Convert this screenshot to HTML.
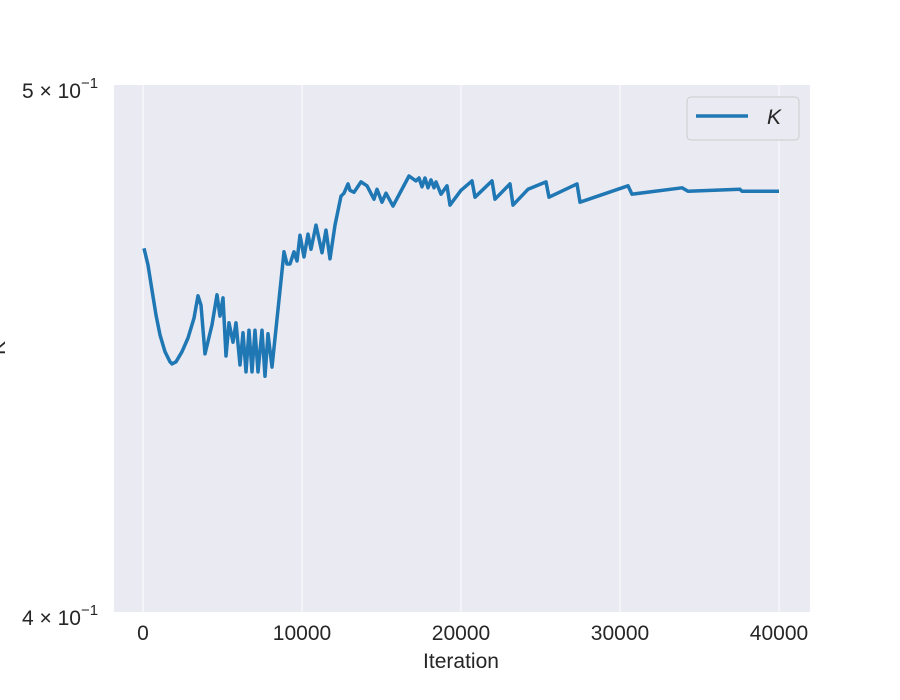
<!DOCTYPE html>
<html><head><meta charset="utf-8"><style>
body{margin:0;background:#fff;}
svg{display:block;font-family:"Liberation Sans",sans-serif;}
</style></head><body>
<svg id="chart" width="900" height="700">
<rect x="114" y="85" width="696" height="527" fill="#eaeaf2"/>
<g id="grid"></g><g id="ticks"></g>
<text x="5" y="348" transform="rotate(-90 5 348)" text-anchor="middle" font-size="21" fill="#262626">K</text>
<text x="461" y="668" text-anchor="middle" font-size="21" fill="#262626">Iteration</text>
<text x="22" y="98" font-size="21" fill="#262626">5 × 10<tspan dy="-10" font-size="15">−1</tspan></text>
<text x="22" y="625" font-size="21" fill="#262626">4 × 10<tspan dy="-10" font-size="15">−1</tspan></text>
<path id="series" fill="none" stroke="#1f77b4" stroke-width="3.5" stroke-linejoin="round"/>
<g>
<rect x="687" y="97" width="112" height="43" rx="4" fill="#eaeaf2" stroke="#cccccc" stroke-width="1"/>
<line x1="696" y1="116" x2="748" y2="116" stroke="#1f77b4" stroke-width="3.5"/>
<text x="767" y="124" font-size="21" font-style="italic" fill="#262626">K</text>
</g>
</svg>
<script>
const iters=[63,314,566,818,1069,1384,1698,1824,2075,2453,2830,3207,3459,3648,3899,4339,4654,4843,5031,5220,5409,5660,5849,6100,6289,6478,6666,6855,7044,7232,7484,7673,7862,8113,8868,9056,9245,9497,9685,9874,10125,10377,10566,10880,11257,11509,11761,12075,12453,12641,12893,13019,13270,13711,14088,14528,14717,15031,15283,15723,16729,17169,17358,17546,17735,17924,18113,18301,18427,18742,19119,19307,19999,20691,20880,21949,22137,23080,23269,24212,25344,25533,27294,27482,30501,30753,33897,34275,37545,37671,40000];
const kValues=[0.4666,0.4633,0.4584,0.4536,0.4498,0.4466,0.4447,0.4443,0.4447,0.4466,0.4492,0.4530,0.4573,0.4555,0.4462,0.4517,0.4575,0.4534,0.4569,0.4458,0.4521,0.4484,0.4521,0.4441,0.4502,0.4428,0.4507,0.4428,0.4507,0.4428,0.4507,0.4420,0.4500,0.4437,0.4659,0.4635,0.4635,0.4659,0.4641,0.4692,0.4649,0.4694,0.4664,0.4712,0.4657,0.4702,0.4645,0.4712,0.4770,0.4776,0.4795,0.4782,0.4778,0.4799,0.4791,0.4764,0.4784,0.4758,0.4776,0.4750,0.4811,0.4801,0.4807,0.4789,0.4807,0.4787,0.4803,0.4787,0.4799,0.4774,0.4791,0.4752,0.4782,0.4801,0.4768,0.4801,0.4764,0.4795,0.4752,0.4784,0.4799,0.4768,0.4795,0.4758,0.4791,0.4774,0.4787,0.4780,0.4784,0.4780,0.4780];
const xTicks=[0,10000,20000,30000,40000];
const xTickLabels=["0","10000","20000","30000","40000"];
const NS="http://www.w3.org/2000/svg";
function xs(v){return 143+v*636/40000;}
function ys(v){return 612-Math.log(v/0.4)/Math.log(1.25)*527;}
const g=document.getElementById('grid'),t=document.getElementById('ticks');
xTicks.forEach((v,i)=>{
 const l=document.createElementNS(NS,'line');
 l.setAttribute('x1',xs(v));l.setAttribute('x2',xs(v));l.setAttribute('y1',85);l.setAttribute('y2',612);
 l.setAttribute('stroke','#fff');l.setAttribute('stroke-width','1');
 
 
 g.appendChild(l);
 const tx=document.createElementNS(NS,'text');
 tx.setAttribute('x',xs(v));tx.setAttribute('y',640);tx.setAttribute('text-anchor','middle');
 tx.setAttribute('font-size','21');tx.setAttribute('fill','#262626');
 tx.textContent=xTickLabels[i];
 
 
 t.appendChild(tx);
});
const p=document.getElementById('series');
p.setAttribute('d',iters.map((x,i)=>(i?'L':'M')+xs(x).toFixed(1)+','+ys(kValues[i]).toFixed(1)).join(''));
</script>
</body></html>
